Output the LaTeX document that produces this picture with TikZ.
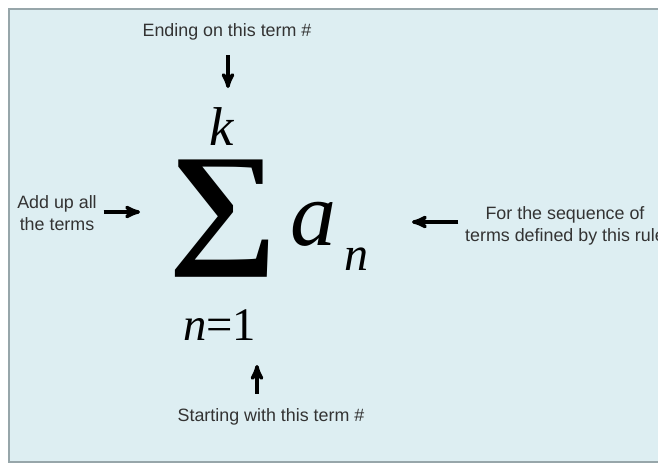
\documentclass[tikz,border=0pt]{standalone}
\usepackage{fontspec}
\setmainfont{Liberation Sans}
\newfontfamily\mathserif{Liberation Serif}
\usepackage{graphicx}
\usetikzlibrary{arrows}

\definecolor{panelblue}{HTML}{DDEEF2}
\definecolor{panelrim}{HTML}{97A6AA}

\begin{document}
\begin{tikzpicture}[x=0.75pt,y=-0.75pt,>=stealth',
    lbl/.style={font=\fontsize{13.4}{16.5}\selectfont, text=black!80, align=center, inner sep=2pt},
    sym/.style={inner sep=0pt, text=black},
    arr/.style={->, line width=2.6pt}]
    % Panel
    \useasboundingbox (0,0) rectangle (658,468);
    \fill[white] (0,0) rectangle (658,468);
    \draw[panelrim, line width=1.5pt, fill=panelblue] (670,9) -- (9,9) -- (9,462) -- (670,462);

    % Sum and its limits
    \node[sym] (sigma) at (223,219) {\resizebox*{82pt}{88pt}{\mathserif\bfseries\char"2211}};
    \node[sym, anchor=base] (upper) at (222,145) {\mathserif\itshape\fontsize{41}{41}\selectfont k};
    \node[sym, anchor=base] (lower) at (219.5,340) {\mathserif\fontsize{35}{35}\selectfont\textit{n}=1};
    \node[sym, anchor=base west] (term) at (290,245) {\mathserif\itshape\fontsize{69}{69}\selectfont a};
    \node[sym, anchor=base west] (index) at (344,270) {\mathserif\itshape\fontsize{36}{36}\selectfont n};

    % Labels
    \node[lbl] (ending) at (227,32) {Ending on this term \#};
    \node[lbl] (starting) at (271,417) {Starting with this term \#};
    \node[lbl] (addup) at (57,213) {Add up all\\the terms};
    \node[lbl] (rule) at (565,226) {For the sequence of\\terms defined by this rule};

    % Arrow tips
    \coordinate (endtip) at (228,88);
    \coordinate (starttip) at (257,365);
    \coordinate (addtip) at (140,212);
    \coordinate (ruletip) at (412,222);

    % Arrows
    \draw[arr, shorten <=9pt] (ending.south -| endtip) -- (endtip);
    \draw[arr, shorten <=9pt] (starting.north -| starttip) -- (starttip);
    \draw[arr, shorten <=3pt] (addup.east |- addtip) -- (addtip);
    \draw[arr, shorten <=3pt] (rule.west |- ruletip) -- (ruletip);
\end{tikzpicture}
\end{document}
